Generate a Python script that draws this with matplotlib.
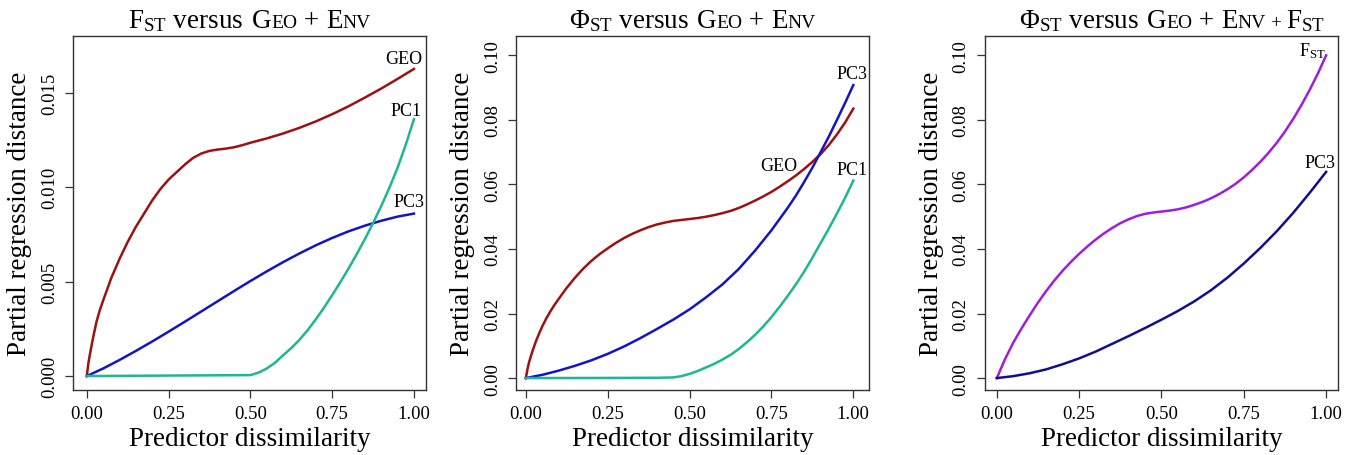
import matplotlib
matplotlib.use("Agg")
import matplotlib.pyplot as plt
from matplotlib.offsetbox import TextArea, HPacker, AnchoredOffsetbox

plt.rcParams['font.family'] = ['Liberation Serif', 'DejaVu Serif']
plt.rcParams['mathtext.fontset'] = 'custom'
plt.rcParams['mathtext.rm'] = 'Liberation Serif'
plt.rcParams['mathtext.it'] = 'Liberation Serif:italic'

# ---- data ----
# panel 1: FST versus GEO + ENV
p1_geo_x = [0, 0.005, 0.01, 0.02, 0.03, 0.04, 0.05, 0.0625, 0.075, 0.0875, 0.1, 0.125,
            0.15, 0.175, 0.2, 0.225, 0.25, 0.275, 0.3, 0.325, 0.35, 0.375, 0.4, 0.425,
            0.45, 0.475, 0.5, 0.55, 0.6, 0.65, 0.7, 0.75, 0.8, 0.85, 0.9, 0.95, 1.0]
p1_geo_y = [0, 0.0007, 0.0012, 0.0021, 0.0029, 0.0035, 0.0040, 0.0046, 0.0052, 0.0057,
            0.0062, 0.0071, 0.0079, 0.0086, 0.0093, 0.0099, 0.0104, 0.0108, 0.0112,
            0.01155, 0.01178, 0.01192, 0.01199, 0.01204, 0.01211, 0.01222, 0.01235,
            0.01258, 0.01284, 0.01314, 0.01348, 0.01386, 0.01428, 0.01474, 0.01522,
            0.01573, 0.01626]
p1_pc3_x = [0, 0.05, 0.1, 0.15, 0.2, 0.25, 0.3, 0.35, 0.4, 0.45, 0.5, 0.55, 0.6, 0.65,
            0.7, 0.75, 0.8, 0.85, 0.9, 0.95, 1.0]
p1_pc3_y = [0, 0.0004, 0.00085, 0.00133, 0.00183, 0.00235, 0.00288, 0.00342, 0.00396,
            0.0045, 0.00503, 0.00554, 0.00603, 0.00649, 0.00692, 0.00731, 0.00766,
            0.00796, 0.00822, 0.00844, 0.0086]
p1_pc1_x = [0, 0.1, 0.2, 0.3, 0.4, 0.5, 0.525, 0.55, 0.575, 0.6, 0.625, 0.65, 0.675,
            0.7, 0.725, 0.75, 0.775, 0.8, 0.825, 0.85, 0.875, 0.9, 0.925, 0.95, 0.975,
            1.0]
p1_pc1_y = [0, 0.00001, 0.00002, 0.00003, 0.00004, 0.00005, 0.00018, 0.0004, 0.0007,
            0.0011, 0.00148, 0.00192, 0.00243, 0.0030, 0.00362, 0.00428, 0.00497,
            0.00569, 0.00645, 0.00725, 0.0081, 0.0090, 0.00997, 0.01103, 0.01225,
            0.0136]

# panel 2: PhiST versus GEO + ENV
p2_geo_x = [0, 0.005, 0.01, 0.02, 0.03, 0.04, 0.05, 0.0625, 0.075, 0.0875, 0.1, 0.125,
            0.15, 0.175, 0.2, 0.225, 0.25, 0.275, 0.3, 0.325, 0.35, 0.375, 0.4, 0.425,
            0.45, 0.475, 0.5, 0.525, 0.55, 0.575, 0.6, 0.625, 0.65, 0.675, 0.7, 0.725,
            0.75, 0.775, 0.8, 0.825, 0.85, 0.875, 0.9, 0.925, 0.95, 0.975, 1.0]
p2_geo_y = [0, 0.0028, 0.0050, 0.0083, 0.0112, 0.0137, 0.0160, 0.0185, 0.0207, 0.0227,
            0.0245, 0.0280, 0.0311, 0.0339, 0.0363, 0.0384, 0.0402, 0.0419, 0.0434,
            0.0447, 0.0458, 0.0468, 0.0476, 0.0482, 0.0487, 0.0490, 0.0493, 0.0496,
            0.0500, 0.0505, 0.0511, 0.0518, 0.0527, 0.0538, 0.0550, 0.0563, 0.0577,
            0.0593, 0.0610, 0.0628, 0.0648, 0.0670, 0.0694, 0.0722, 0.0755, 0.0792,
            0.0835]
p2_pc3_x = [0, 0.05, 0.1, 0.15, 0.2, 0.25, 0.3, 0.35, 0.4, 0.45, 0.5, 0.55, 0.6, 0.65,
            0.7, 0.75, 0.8, 0.825, 0.85, 0.875, 0.9, 0.925, 0.95, 0.975, 1.0]
p2_pc3_y = [0, 0.0010, 0.0023, 0.0038, 0.0055, 0.0075, 0.0098, 0.0124, 0.0152, 0.0181,
            0.0213, 0.0250, 0.0290, 0.0338, 0.0395, 0.0458, 0.0528, 0.0566, 0.0608,
            0.0652, 0.0700, 0.0748, 0.0800, 0.0853, 0.0908]
p2_pc1_x = [0, 0.1, 0.2, 0.3, 0.4, 0.45, 0.475, 0.5, 0.525, 0.55, 0.575, 0.6, 0.625,
            0.65, 0.675, 0.7, 0.725, 0.75, 0.775, 0.8, 0.825, 0.85, 0.875, 0.9, 0.925,
            0.95, 0.975, 1.0]
p2_pc1_y = [0, 0.00002, 0.00004, 0.00006, 0.0001, 0.0002, 0.0006, 0.0013, 0.0022,
            0.0033, 0.0044, 0.0057, 0.0072, 0.0090, 0.0111, 0.0134, 0.0160, 0.0189,
            0.0221, 0.0255, 0.0291, 0.0330, 0.0373, 0.0418, 0.0463, 0.0510, 0.0559,
            0.0612]

# panel 3: PhiST versus GEO + ENV + FST
p3_fst_x = [0, 0.025, 0.05, 0.075, 0.1, 0.125, 0.15, 0.175, 0.2, 0.225, 0.25, 0.275,
            0.3, 0.325, 0.35, 0.375, 0.4, 0.425, 0.45, 0.475, 0.5, 0.525, 0.55, 0.575,
            0.6, 0.625, 0.65, 0.675, 0.7, 0.725, 0.75, 0.775, 0.8, 0.825, 0.85, 0.875,
            0.9, 0.925, 0.95, 0.975, 1.0]
p3_fst_y = [0, 0.0059, 0.0110, 0.0154, 0.0195, 0.0234, 0.0270, 0.0303, 0.0333, 0.0360,
            0.0385, 0.0408, 0.0429, 0.0448, 0.0465, 0.0480, 0.0492, 0.0502, 0.0509,
            0.0513, 0.0516, 0.0519, 0.0523, 0.0529, 0.0537, 0.0546, 0.0557, 0.0570,
            0.0585, 0.0602, 0.0622, 0.0645, 0.0670, 0.0698, 0.0729, 0.0764, 0.0803,
            0.0846, 0.0893, 0.0944, 0.1000]
p3_pc3_x = [0, 0.05, 0.1, 0.15, 0.2, 0.25, 0.3, 0.35, 0.4, 0.45, 0.5, 0.55, 0.6, 0.65,
            0.7, 0.75, 0.8, 0.85, 0.9, 0.95, 1.0]
p3_pc3_y = [0, 0.0006, 0.0015, 0.0027, 0.0043, 0.0061, 0.0082, 0.0106, 0.0130, 0.0155,
            0.0181, 0.0208, 0.0238, 0.0272, 0.0311, 0.0355, 0.0403, 0.0455, 0.0512,
            0.0574, 0.0639]

x_ticks = [0, 0.25, 0.5, 0.75, 1.0]
x_ticklabels = ['0.00', '0.25', '0.50', '0.75', '1.00']
p1_yticks = [0, 0.005, 0.010, 0.015]
p1_yticklabels = ['0.000', '0.005', '0.010', '0.015']
p23_yticks = [0, 0.02, 0.04, 0.06, 0.08, 0.10]
p23_yticklabels = ['0.00', '0.02', '0.04', '0.06', '0.08', '0.10']

RED = '#9b1212'
BLUE = '#1414c4'
NAVY = '#10108e'
GREEN = '#1db88f'
PURPLE = '#a01ed8'
LW = 1.8

fig = plt.figure(figsize=(13.53, 4.56), dpi=100)

W, H, B = 0.2609, 0.7763, 0.1425
ax1 = fig.add_axes([0.054, B, W, H])
ax2 = fig.add_axes([0.3814, B, W, H])
ax3 = fig.add_axes([0.728, B, W, H])


def style(ax, yticks, yticklabels, xlim, ylim):
    ax.set_xlim(*xlim)
    ax.set_ylim(*ylim)
    ax.set_xticks(x_ticks)
    ax.set_xticklabels(x_ticklabels)
    ax.set_yticks(yticks)
    ax.set_yticklabels(yticklabels, rotation=90, va='center')
    ax.tick_params(direction='out', length=6, width=0.9, labelsize=13.5, pad=5,
                   color='#333333')
    for s in ax.spines.values():
        s.set_linewidth(1.0)
        s.set_color('#333333')
    ax.set_xlabel('Predictor dissimilarity', fontsize=19.5, labelpad=3)
    ax.set_ylabel('Partial regression distance', fontsize=19.5, labelpad=6)


def title(ax, parts, xshift=0.5):
    boxes = [TextArea(t, textprops=dict(fontsize=s, color='black')) for t, s in parts]
    pack = HPacker(children=boxes, align='baseline', pad=0, sep=0)
    anch = AnchoredOffsetbox(loc='lower center', child=pack, frameon=False, pad=0,
                             borderpad=0.2, bbox_to_anchor=(xshift, 1.0),
                             bbox_transform=ax.transAxes)
    ax.add_artist(anch)


BIG, SMALL = 19.5, 14

# panel 1
ax1.plot(p1_geo_x, p1_geo_y, color=RED, lw=LW)
ax1.plot(p1_pc3_x, p1_pc3_y, color=BLUE, lw=LW)
ax1.plot(p1_pc1_x, p1_pc1_y, color=GREEN, lw=LW)
ax1.text(0.97, 0.01655, 'GEO', fontsize=13, ha='center', va='baseline')
ax1.text(0.975, 0.0138, 'PC1', fontsize=13, ha='center', va='baseline')
ax1.text(0.985, 0.0090, 'PC3', fontsize=13, ha='center', va='baseline')
style(ax1, p1_yticks, p1_yticklabels, (-0.042, 1.037), (-0.00074, 0.0180))
title(ax1, [(r'F$_{\mathregular{ST}}$ versus  ', BIG), ('G', BIG), ('EO', SMALL),
            (' + ', BIG), ('E', BIG), ('NV', SMALL)])

# panel 2
ax2.plot(p2_geo_x, p2_geo_y, color=RED, lw=LW)
ax2.plot(p2_pc3_x, p2_pc3_y, color=BLUE, lw=LW)
ax2.plot(p2_pc1_x, p2_pc1_y, color=GREEN, lw=LW)
ax2.text(0.774, 0.0644, 'GEO', fontsize=13, ha='center', va='baseline')
ax2.text(0.996, 0.0929, 'PC3', fontsize=13, ha='center', va='baseline')
ax2.text(0.996, 0.0632, 'PC1', fontsize=13, ha='center', va='baseline')
style(ax2, p23_yticks, p23_yticklabels, (-0.03, 1.048), (-0.0037, 0.106))
title(ax2, [(r'Φ$_{\mathregular{ST}}$ versus  ', BIG), ('G', BIG), ('EO', SMALL),
            (' + ', BIG), ('E', BIG), ('NV', SMALL)])

# panel 3
ax3.plot(p3_fst_x, p3_fst_y, color=PURPLE, lw=LW)
ax3.plot(p3_pc3_x, p3_pc3_y, color=NAVY, lw=LW)
ax3.text(0.957, 0.1001, r'F$_{\mathregular{ST}}$', fontsize=13, ha='center',
         va='baseline')
ax3.text(0.982, 0.0654, 'PC3', fontsize=13, ha='center', va='baseline')
style(ax3, p23_yticks, p23_yticklabels, (-0.036, 1.036), (-0.0037, 0.106))
title(ax3, [(r'Φ$_{\mathregular{ST}}$ versus  ', BIG), ('G', BIG), ('EO', SMALL),
            (' + ', BIG), ('E', BIG), ('NV', SMALL), (' + ', SMALL),
            (r'F$_{\mathregular{ST}}$', BIG)], xshift=0.53)

fig.savefig('out.png', dpi=100)
